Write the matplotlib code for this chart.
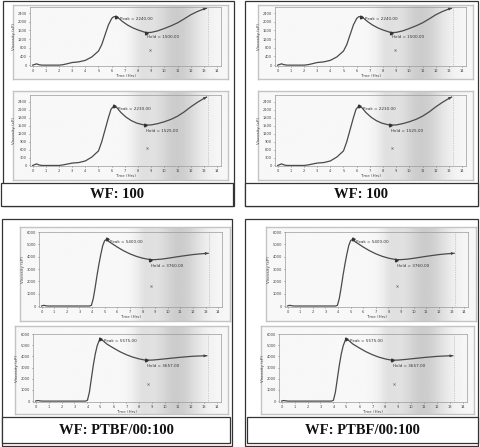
import numpy as np
import matplotlib
matplotlib.use("Agg")
import matplotlib.pyplot as plt
from matplotlib.patches import Rectangle

W, H = 480, 447

# ---------------- data ----------------
wf1_t = [0, 0.15, 0.3, 0.45, 0.7, 1, 1.5, 2, 2.3, 2.6, 3, 3.5, 4, 4.5, 5, 5.25, 5.5, 5.75, 6,
         6.15, 6.3, 6.5, 6.8, 7.2, 7.6, 8, 8.3, 8.6, 9, 9.5, 10, 10.5, 11, 11.5, 12, 12.5, 13, 13.2]
wf1_v = [0, 30, 60, 25, 0, 0, 0, 0, 20, 60, 120, 150, 220, 380, 650, 950, 1400, 1850, 2150,
         2230, 2240, 2180, 2020, 1850, 1720, 1620, 1560, 1500, 1510, 1580, 1690, 1810, 1950, 2130,
         2320, 2470, 2590, 2620]
wf1_peak = (6.3, 2240.00)
wf1_hold = (8.6, 1500.00)

wf2_t = [0, 0.15, 0.3, 0.45, 0.7, 1, 1.5, 2, 2.3, 2.6, 3, 3.5, 4, 4.5, 5, 5.25, 5.5, 5.75, 5.95,
         6.1, 6.2, 6.4, 6.7, 7.1, 7.5, 7.9, 8.2, 8.5, 9, 9.5, 10, 10.5, 11, 11.5, 12, 12.5, 13, 13.2]
wf2_v = [0, 30, 60, 25, 0, 0, 0, 0, 20, 50, 90, 110, 170, 320, 550, 900, 1350, 1800, 2120,
         2210, 2230, 2180, 2000, 1820, 1690, 1600, 1560, 1525, 1530, 1580, 1650, 1740, 1860, 2020,
         2210, 2380, 2530, 2580]
wf2_peak = (6.2, 2230.00)
wf2_hold = (8.5, 1525.00)

pt1_t = [0, 0.1, 0.2, 0.35, 0.5, 1, 2, 3, 3.8, 3.95, 4.1, 4.25, 4.4, 4.55, 4.7, 4.85, 5.0, 5.15,
         5.3, 5.6, 6, 6.5, 7, 7.5, 8, 8.6, 9, 9.5, 10, 10.5, 11, 11.5, 12, 12.5, 13, 13.2]
pt1_v = [0, 40, 50, 20, 0, 0, 0, 0, 0, 50, 600, 1500, 2500, 3400, 4200, 4900, 5300, 5400,
         5250, 5050, 4780, 4480, 4230, 4030, 3880, 3760, 3760, 3800, 3870, 3950, 4030, 4100,
         4170, 4220, 4260, 4270]
pt1_peak = (5.15, 5400.00)
pt1_hold = (8.6, 3760.00)

pt2_t = [0, 0.1, 0.2, 0.35, 0.5, 1, 2, 3, 3.85, 4.0, 4.15, 4.3, 4.45, 4.6, 4.75, 4.9, 5.0, 5.2,
         5.5, 6, 6.5, 7, 7.5, 8, 8.5, 9, 9.5, 10, 10.5, 11, 11.5, 12, 12.5, 13, 13.2]
pt2_v = [0, 40, 50, 20, 0, 0, 0, 0, 0, 80, 800, 2000, 3200, 4200, 4950, 5400, 5575, 5400,
         5100, 4750, 4420, 4150, 3930, 3770, 3657, 3670, 3720, 3780, 3840, 3900, 3950, 4000,
         4030, 4050, 4060]
pt2_peak = (5.0, 5575.00)
pt2_hold = (8.5, 3657.00)

wf_ticks_1 = [0, 400, 800, 1200, 1600, 2000, 2400]
wf_ticks_2 = [0, 300, 600, 900, 1200, 1500, 1800, 2100, 2400]
pt_ticks = [0, 1000, 2000, 3000, 4000, 5000, 6000]
x_ticks = list(range(0, 15))

panel_labels = ["WF: 100", "WF: 100", "WF: PTBF/00:100", "WF: PTBF/00:100"]

# ---------------- helpers ----------------
fig = plt.figure(figsize=(W / 100, H / 100), dpi=100)
fig.patch.set_facecolor("white")


def rect(x0, y0, x1, y1):
    return [x0 / W, 1 - y1 / H, (x1 - x0) / W, (y1 - y0) / H]


def frame_box(x0, y0, x1, y1, lw=0.9, color="#333333", fc="none", z=1):
    fig.patches.append(Rectangle((x0 / W, 1 - y1 / H), (x1 - x0) / W, (y1 - y0) / H,
                                 transform=fig.transFigure, fill=(fc != "none"),
                                 facecolor=fc, edgecolor=color, lw=lw, zorder=z))


def chart(frame, axr, t, v, yticks, ylim, peak, hold, mark):
    # scanned picture frame with gray band
    fa = fig.add_axes(rect(*frame))
    xs = np.linspace(0, 1, 200)
    prof = (1 - 0.03 - 0.17 * np.exp(-((xs - 0.76) / 0.11) ** 2)
            - 0.07 * np.exp(-((xs - 0.6) / 0.05) ** 2))
    img = np.tile(prof, (10, 1))
    fa.imshow(img, cmap="gray", vmin=0, vmax=1, aspect="auto", extent=[0, 1, 0, 1])
    fa.set_xlim(0, 1)
    fa.set_ylim(0, 1)
    fa.set_xticks([])
    fa.set_yticks([])
    for s in fa.spines.values():
        s.set_color("#c4c4c4")
        s.set_linewidth(1.0)

    ax = fig.add_axes(rect(*axr))
    ax.patch.set_alpha(0)
    ax.plot(t, v, color="#4a4a4a", lw=0.9)
    ax.annotate("", xy=(t[-1], v[-1]), xytext=(t[-2], v[-2]),
                arrowprops=dict(arrowstyle="-|>", color="#444444", lw=0.6,
                                mutation_scale=3.5))
    ax.axvline(13.3, color="#aaaaaa", lw=0.5, ls=(0, (1, 1.5)))
    ax.plot([peak[0]], [peak[1]], marker=(3, 0, 30), ms=2.5, color="#333333")
    ax.plot([hold[0]], [hold[1]], marker=(3, 0, 30), ms=2.5, color="#333333")
    dy = (ylim[1] - ylim[0])
    ax.text(peak[0] + 0.3, peak[1] - 0.04 * dy, f"Peak = {peak[1]:.2f}",
            fontsize=3.0, color="#333333", va="center")
    ax.text(hold[0] + 0.1, hold[1] - 0.08 * dy, f"Hold = {hold[1]:.2f}",
            fontsize=3.0, color="#333333", va="center")
    ax.plot([mark[0]], [mark[1]], marker="x", ms=1.5, mew=0.5, color="#777777")
    ax.set_xlim(-0.2, 14.3)
    ax.set_ylim(*ylim)
    ax.set_xticks(x_ticks)
    ax.set_yticks(yticks)
    ax.tick_params(labelsize=2.6, length=1.0, width=0.4, pad=1.0, colors="#444444")
    ax.set_xlabel("Time (Hrs)", fontsize=2.9, labelpad=0.8, color="#444444")
    ax.set_ylabel("Viscosity (cP)", fontsize=2.9, labelpad=1.0, color="#444444")
    for s in ax.spines.values():
        s.set_color("#9a9a9a")
        s.set_linewidth(0.5)
    return ax


# ---------------- panels ----------------
panels = [
    dict(dx=0, box=(3, 1, 234, 206), lab=(1, 183, 233, 206)),
    dict(dx=245, box=(245, 1, 478, 206), lab=(245, 183, 478, 206)),
]
for p in panels:
    d = p["dx"]
    frame_box(*p["box"])
    chart((13 + d, 5, 228 + d, 79), (30 + d, 7, 221 + d, 66), wf1_t, wf1_v,
          wf_ticks_1, (-40, 2680), wf1_peak, wf1_hold, (8.9, 700))
    chart((13 + d, 91, 228 + d, 180), (30 + d, 95, 221 + d, 166), wf2_t, wf2_v,
          wf_ticks_2, (-20, 2660), wf2_peak, wf2_hold, (8.7, 650))
    frame_box(*p["lab"], fc="white", z=3)

bpanels = [
    dict(dx=0, box=(2, 219, 232, 446), lab=(2, 417, 230, 443)),
    dict(dx=246, box=(245, 219, 478, 446), lab=(247, 417, 478, 443)),
]
for p in bpanels:
    d = p["dx"]
    frame_box(*p["box"])
    chart((20 + d, 227, 230 + d, 321), (39 + d, 232, 222 + d, 307), pt1_t, pt1_v,
          pt_ticks, (-80, 6000), pt1_peak, pt1_hold, (8.7, 1600))
    chart((15 + d, 326, 228 + d, 414), (33 + d, 334, 221 + d, 402), pt2_t, pt2_v,
          pt_ticks, (-80, 6000), pt2_peak, pt2_hold, (8.7, 1500))
    frame_box(*p["lab"], fc="white", z=3)

# labels
for (x0, y0, x1, y1), txt in zip([(1, 183, 233, 206), (245, 183, 478, 206),
                                  (2, 417, 230, 443), (247, 417, 478, 443)], panel_labels):
    fig.text((x0 + x1) / 2 / W, 1 - (y0 + y1) / 2 / H, txt, ha="center", va="center",
             fontsize=10.5, fontweight="bold", family="Liberation Serif", color="#111111",
             zorder=5)

fig.savefig("out.png", dpi=100)
